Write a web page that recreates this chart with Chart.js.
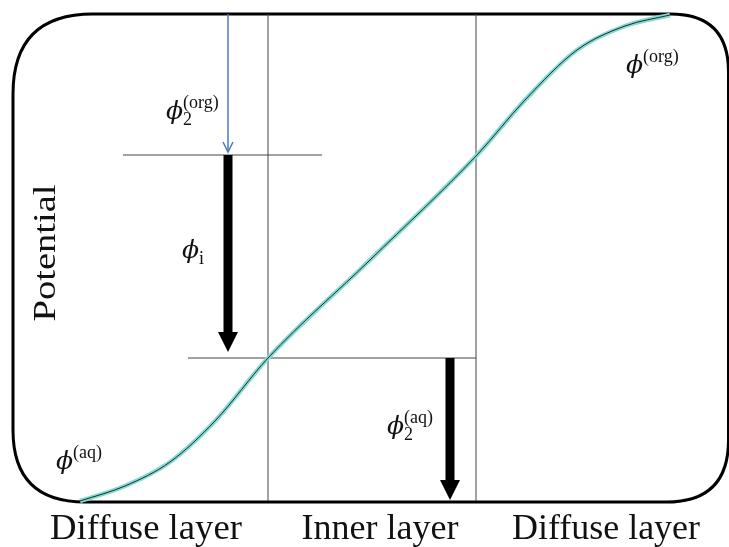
<!DOCTYPE html>
<html>
<head>
<meta charset="utf-8">
<script src="https://cdn.jsdelivr.net/npm/chart.js@4"></script>
<style>
  html, body { margin: 0; padding: 0; background: #fff; }
  canvas { display: block; }
</style>
</head>
<body>
<canvas id="c" width="729" height="547"></canvas>
<script>
// position across the interface (left = aqueous side) and potential (up = higher)
const curveX = [80, 125, 170, 215, 268, 370, 477, 525, 577, 625, 670]
const curveY = [46, 61, 85, 126, 189, 287, 392, 447, 497, 521, 532]

// boundaries of the inner layer and the two potential levels at them
const innerLeft = 268
const innerRight = 476
const levelOrg = 392
const levelAq = 189
const potTop = 533
const potBottom = 46

// region labels along the bottom
const regionLabels = ['Diffuse layer', 'Inner layer', 'Diffuse layer']
const regionCenters = [146, 380, 606]
const regionWidths = [192, 157, 188]

// potential drops marked with arrows: x, from, to
const arrows = [
    { x: 228, from: potTop, to: levelOrg + 3, kind: 'thin' },
    { x: 228, from: levelOrg, to: levelAq + 6, kind: 'thick' },
    { x: 450, from: levelAq, to: potBottom + 1, kind: 'thick' }
]

// symbols: x of phi, baseline potential, subscript, superscript
const symbols = [
    { x: 166, y: 428, sub: '2', sup: '(org)' },
    { x: 182, y: 289, sub: 'i', sup: '' },
    { x: 387, y: 113, sub: '2', sup: '(aq)' },
    { x: 56, y: 78, sub: '', sup: '(aq)' },
    { x: 626, y: 474, sub: '', sup: '(org)' }
]

const curve = curveX.map((x, i) => ({ x, y: curveY[i] }))
const SERIF = "'Liberation Serif', 'Times New Roman', Times, serif"

function guide(points) {
    return {
        data: points,
        showLine: true,
        borderColor: '#444',
        borderWidth: 1,
        pointRadius: 0,
        order: 3
    }
}

function fitText(ctx, text, x, y, width, font, rotate) {
    ctx.save()
    ctx.font = font
    const w = ctx.measureText(text).width
    ctx.translate(x, y)
    if (rotate) ctx.rotate(-Math.PI / 2)
    ctx.scale(width / w, 1)
    ctx.textAlign = 'center'
    ctx.textBaseline = 'alphabetic'
    ctx.fillStyle = '#111'
    ctx.fillText(text, 0, 0)
    ctx.restore()
}

const schematic = {
    id: 'schematic',
    beforeDatasetsDraw(chart) {
        const { ctx, scales: { x, y } } = chart
        // rounded frame
        const l = x.getPixelForValue(13), r = x.getPixelForValue(728.5)
        const t = y.getPixelForValue(potTop), b = y.getPixelForValue(potBottom - 1)
        const tl = 80, tr = 58, br = 62, bl = 72
        ctx.save()
        ctx.strokeStyle = '#000'
        ctx.lineWidth = 3
        ctx.beginPath()
        ctx.moveTo(l + tl, t)
        ctx.lineTo(r - tr, t)
        ctx.quadraticCurveTo(r, t, r, t + tr)
        ctx.lineTo(r, b - br)
        ctx.quadraticCurveTo(r, b, r - br, b)
        ctx.lineTo(l + bl, b)
        ctx.quadraticCurveTo(l, b, l, b - bl)
        ctx.lineTo(l, t + tl)
        ctx.quadraticCurveTo(l, t, l + tl, t)
        ctx.stroke()
        ctx.restore()
    },
    afterDatasetsDraw(chart) {
        const { ctx, scales: { x, y } } = chart
        //
        arrows.forEach(a => {
            const px = x.getPixelForValue(a.x)
            const y0 = y.getPixelForValue(a.from)
            const y1 = y.getPixelForValue(a.to)
            const thin = a.kind === 'thin'
            const headLen = thin ? 10 : 20
            const headW = thin ? 5 : 10
            ctx.save()
            ctx.strokeStyle = thin ? '#4a78c4' : '#000'
            ctx.fillStyle = ctx.strokeStyle
            ctx.lineWidth = thin ? 1.5 : 9
            ctx.beginPath()
            ctx.moveTo(px, y0)
            ctx.lineTo(px, y1 - (thin ? 2 : headLen - 2))
            ctx.stroke()
            if (thin) {
                ctx.beginPath()
                ctx.moveTo(px - headW, y1 - headLen)
                ctx.lineTo(px, y1)
                ctx.lineTo(px + headW, y1 - headLen)
                ctx.stroke()
            } else {
                ctx.beginPath()
                ctx.moveTo(px - headW, y1 - headLen)
                ctx.lineTo(px + headW, y1 - headLen)
                ctx.lineTo(px, y1)
                ctx.closePath()
                ctx.fill()
            }
            ctx.restore()
        })
        //
        symbols.forEach(s => {
            const px = x.getPixelForValue(s.x)
            const py = y.getPixelForValue(s.y)
            ctx.save()
            ctx.fillStyle = '#111'
            ctx.textBaseline = 'alphabetic'
            ctx.font = "italic 25px 'DejaVu Serif'"
            ctx.fillText('\u03d5', px, py)
            const w = ctx.measureText('\u03d5').width
            ctx.font = "18px " + SERIF
            if (s.sup) ctx.fillText(s.sup, px + w, py - 11)
            if (s.sub) ctx.fillText(s.sub, px + w, py + 6)
            ctx.restore()
        })
        //
        regionLabels.forEach((label, i) => {
            fitText(ctx, label, x.getPixelForValue(regionCenters[i]), y.getPixelForValue(8),
                regionWidths[i], '35px ' + SERIF, false)
        })
        fitText(ctx, 'Potential', x.getPixelForValue(55), y.getPixelForValue(294),
            137, '31px ' + SERIF, true)
    }
}

function build() {
    new Chart(document.getElementById('c'), {
        type: 'scatter',
        data: {
            datasets: [
                guide([{ x: innerLeft, y: potBottom }, { x: innerLeft, y: potTop }]),
                guide([{ x: innerRight, y: potBottom }, { x: innerRight, y: potTop }]),
                guide([{ x: 123, y: levelOrg }, { x: 322, y: levelOrg }]),
                guide([{ x: 188, y: levelAq }, { x: innerRight, y: levelAq }]),
                {
                    data: curve,
                    showLine: true,
                    borderColor: '#86d9d2',
                    borderWidth: 4.5,
                    cubicInterpolationMode: 'monotone',
                    pointRadius: 0,
                    order: 2
                },
                {
                    data: curve.map(p => ({ ...p })),
                    showLine: true,
                    borderColor: 'rgba(10,30,30,0.9)',
                    borderWidth: 1,
                    cubicInterpolationMode: 'monotone',
                    pointRadius: 0,
                    order: 1
                }
            ]
        },
        options: {
            responsive: false,
            animation: false,
            layout: { padding: 0 },
            scales: {
                x: { type: 'linear', min: 0, max: 729, display: false },
                y: { type: 'linear', min: 0, max: 547, display: false }
            },
            plugins: {
                legend: { display: false },
                tooltip: { enabled: false }
            }
        },
        plugins: [schematic]
    })
}

Promise.all([
    document.fonts.load("35px 'Liberation Serif'"),
    document.fonts.load("18px 'Liberation Serif'"),
    document.fonts.load("italic 25px 'DejaVu Serif'", '\u03d5')
]).catch(() => {}).then(build)
</script>
</body>
</html>
